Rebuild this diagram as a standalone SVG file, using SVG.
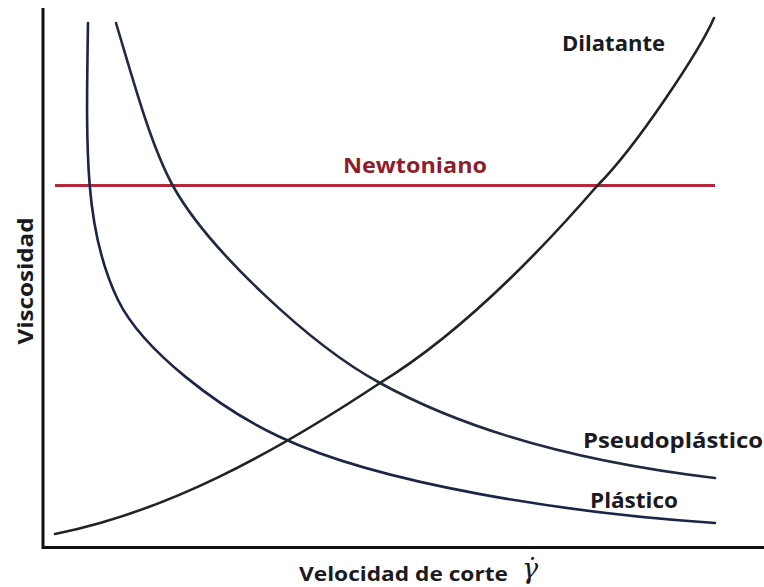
<svg xmlns="http://www.w3.org/2000/svg" width="764" height="587" viewBox="0 0 764 587">
<style>
.lbl{font-family:"Open Sans","Liberation Sans",sans-serif;font-weight:bold;font-size:21px;fill:#1a1a22}
.curve{fill:none;stroke-width:2.6;stroke-linecap:round;stroke-linejoin:round}
.axis{fill:none;stroke:#111;stroke-width:3}
</style>
<rect width="764" height="587" fill="#ffffff"/>
<g id="axes">
<path class="axis" d="M43,8 V547.5 H764"/>
<text class="lbl" transform="translate(33,281) rotate(-90)" text-anchor="middle" textLength="127" lengthAdjust="spacingAndGlyphs">Viscosidad</text>
<text class="lbl" x="299" y="581" font-size="20" style="font-size:20px" textLength="209" lengthAdjust="spacingAndGlyphs">Velocidad de corte</text>
<text x="522" y="578" font-family="'DejaVu Serif',serif" font-style="italic" font-size="27" fill="#1a1a22">γ̇</text>
</g>
<g id="connectors">
<path id="newtoniano-line" d="M55,185.5 H715" fill="none" stroke="#b3283a" stroke-width="3"/>
<path id="plastico-curve" class="curve" stroke="#1c2448" d="M88,23 C86,150 84,230 118,300 C143,351 220,409 280,437 C380,484 565,513 715,523"/>
<path id="pseudo-curve" class="curve" stroke="#222a40" d="M116,23 C134,83 151,146 173,186 C208,249 310,345 380,383 C480,438 605,465 715,478"/>
<path id="dilatante-curve" class="curve" stroke="#1e2522" d="M55,534 C165,512 270,456 380,383 C452,339 525,269 597,186 C637,146 700,50 714,18"/>
</g>
<g id="newtoniano">
<text class="lbl" x="343" y="173" style="fill:#8e1e2e" textLength="144" lengthAdjust="spacingAndGlyphs">Newtoniano</text>
</g>
<g id="dilatante">
<text class="lbl" x="562" y="51" textLength="103" lengthAdjust="spacingAndGlyphs">Dilatante</text>
</g>
<g id="pseudoplastico">
<text class="lbl" x="583" y="448" textLength="180" lengthAdjust="spacingAndGlyphs">Pseudoplástico</text>
</g>
<g id="plastico">
<text class="lbl" x="590" y="508" textLength="88" lengthAdjust="spacingAndGlyphs">Plástico</text>
</g>
</svg>
